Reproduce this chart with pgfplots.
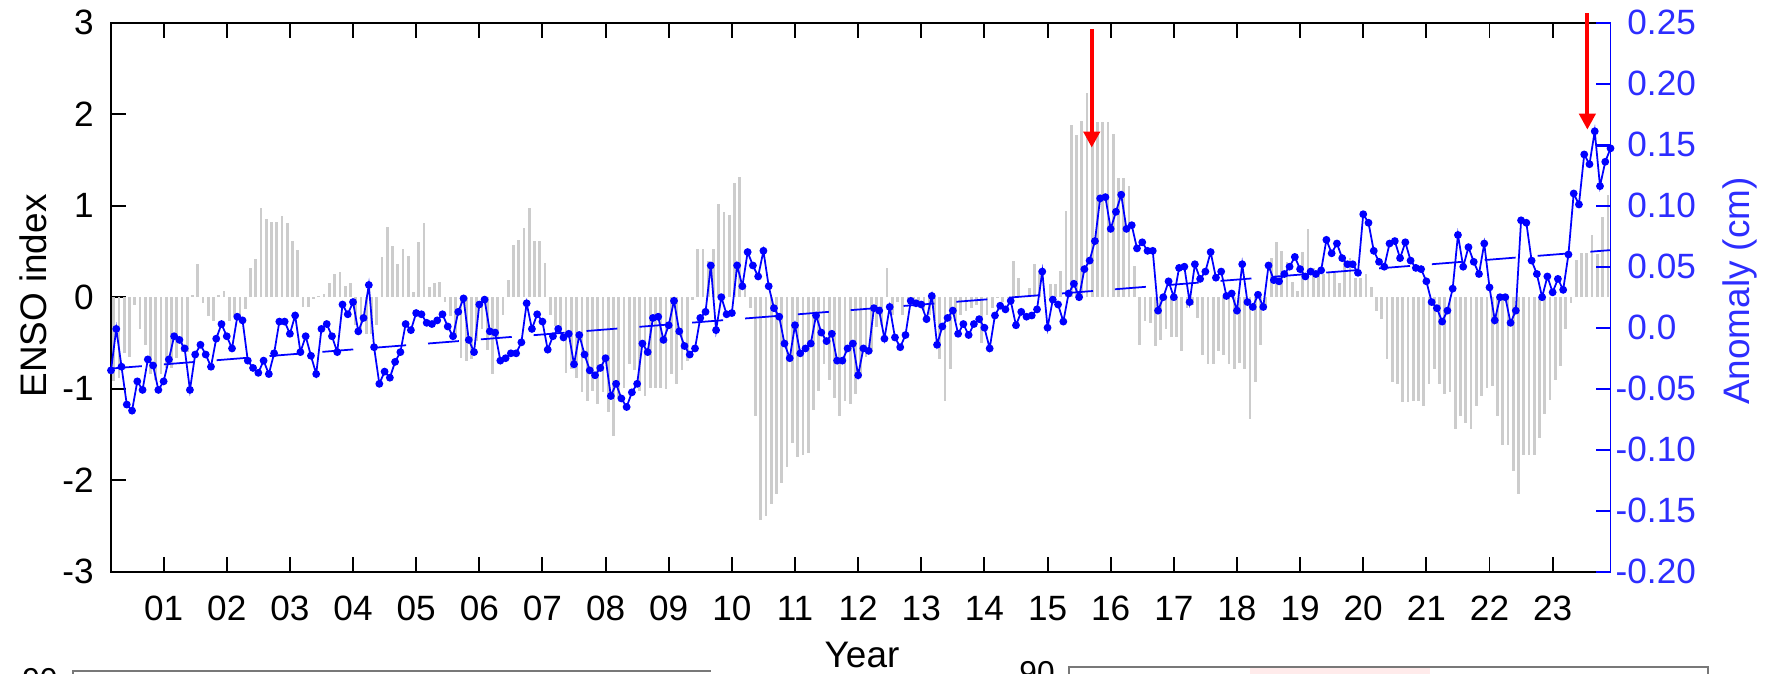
\documentclass[border=0pt]{standalone}
\usepackage{fontspec}
\setmainfont{Liberation Sans}
\usepackage{pgfplots}
\pgfplotsset{compat=1.18}
\usetikzlibrary{arrows.meta}
\definecolor{ensogray}{RGB}{204,204,204}
\definecolor{anomblue}{RGB}{0,0,255}
\definecolor{labelblue}{RGB}{45,45,255}
\definecolor{panelgray}{RGB}{120,120,120}

\begin{document}
\begin{tikzpicture}
\path[use as bounding box] (0,0) rectangle (176.5mm,67.3mm);

% ENSO index (grey bars), x = months since March 2000
\begin{axis}[
  at={(11.1mm,10.13mm)}, anchor=south west,
  scale only axis, width=149.95mm, height=54.9mm,
  xmin=0, xmax=285, ymin=-3, ymax=3,
  xtick={10,22,...,274},
  xticklabels={01,02,03,04,05,06,07,08,09,10,11,12,13,14,15,16,17,18,19,20,21,22,23},
  xtick pos=both, xticklabel pos=lower,
  ytick={-3,-2,-1,0,1,2,3},
  yticklabels={-3,-2,-1,0,1,2,3},
  ytick pos=left,
  tick align=inside,
  major tick length=1.5mm,
  tick style={black, line width=0.55pt},
  axis line style={line width=0.55pt},
  ticklabel style={font=\fontsize{10}{11}\selectfont},
  yticklabel style={xshift=-0.5mm},
  xticklabel style={yshift=-1.2mm},
  /pgf/number format/assume math mode=true,
  clip=false,
]
\addplot[ycomb, ensogray, line width=0.78pt] coordinates {
(0.5,-0.92) (1.5,-0.88) (2.5,-0.61) (3.5,-0.65) (4.5,-0.08) (5.5,-0.35) (6.5,-0.52) (7.5,-0.84) (8.5,-0.90) (9.5,-0.84)
(10.5,-0.77) (11.5,-0.77) (12.5,-0.66) (13.5,-0.60) (14.5,-0.60) (15.5,0.02) (16.5,0.36) (17.5,-0.06) (18.5,-0.20) (19.5,-0.26)
(20.5,0.02) (21.5,0.07) (22.5,-0.26) (23.5,-0.20) (24.5,-0.20) (25.5,-0.13) (26.5,0.32) (27.5,0.42) (28.5,0.98) (29.5,0.86)
(30.5,0.82) (31.5,0.82) (32.5,0.89) (33.5,0.81) (34.5,0.61) (35.5,0.52) (36.5,-0.11) (37.5,-0.11) (38.5,-0.02) (39.5,0.01)
(40.5,0.03) (41.5,0.16) (42.5,0.25) (43.5,0.28) (44.5,0.12) (45.5,0.16) (46.5,-0.30) (47.5,-0.35) (48.5,-0.40) (49.5,-0.40)
(50.5,-0.30) (51.5,0.44) (52.5,0.77) (53.5,0.56) (54.5,0.36) (55.5,0.53) (56.5,0.45) (57.5,0.06) (58.5,0.60) (59.5,0.81)
(60.5,0.11) (61.5,0.15) (62.5,0.17) (63.5,-0.05) (64.5,-0.20) (65.5,-0.45) (66.5,-0.66) (67.5,-0.70) (68.5,-0.68) (69.5,-0.48)
(70.5,-0.35) (71.5,-0.58) (72.5,-0.84) (73.5,-0.45) (74.5,-0.19) (75.5,0.19) (76.5,0.57) (77.5,0.63) (78.5,0.76) (79.5,0.98)
(80.5,0.61) (81.5,0.61) (82.5,0.37) (83.5,-0.19) (84.5,-0.32) (85.5,-0.40) (86.5,-0.83) (87.5,-0.78) (88.5,-0.88) (89.5,-1.04)
(90.5,-1.13) (91.5,-1.03) (92.5,-1.17) (93.5,-1.04) (94.5,-1.26) (95.5,-1.52) (96.5,-1.10) (97.5,-0.99) (98.5,-0.73) (99.5,-0.80)
(100.5,-1.03) (101.5,-1.08) (102.5,-0.99) (103.5,-0.99) (104.5,-0.99) (105.5,-1.00) (106.5,-0.84) (107.5,-0.95) (108.5,-0.80) (109.5,-0.70)
(110.5,-0.03) (111.5,0.53) (112.5,0.53) (113.5,0.40) (114.5,0.53) (115.5,1.02) (116.5,0.93) (117.5,0.90) (118.5,1.25) (119.5,1.31)
(120.5,0.10) (121.5,-0.12) (122.5,-1.30) (123.5,-2.43) (124.5,-2.39) (125.5,-2.26) (126.5,-2.15) (127.5,-2.03) (128.5,-1.86) (129.5,-1.59)
(130.5,-1.75) (131.5,-1.73) (132.5,-1.70) (133.5,-1.23) (134.5,-1.03) (135.5,-0.73) (136.5,-0.90) (137.5,-1.10) (138.5,-1.30) (139.5,-1.13)
(140.5,-1.17) (141.5,-1.06) (142.5,-0.85) (143.5,-0.65) (144.5,-0.60) (145.5,-0.33) (146.5,-0.30) (147.5,0.32) (148.5,-0.19) (149.5,-0.05)
(150.5,-0.19) (151.5,-0.03) (152.5,-0.04) (153.5,-0.08) (154.5,-0.15) (155.5,-0.19) (156.5,-0.26) (157.5,-0.68) (158.5,-1.13) (159.5,-0.79)
(160.5,-0.26) (161.5,-0.19) (162.5,-0.15) (163.5,-0.12) (164.5,-0.08) (165.5,-0.50) (166.5,-0.19) (167.5,-0.12) (168.5,-0.01) (169.5,-0.05)
(170.5,-0.01) (171.5,0.40) (172.5,0.21) (173.5,0.00) (174.5,0.10) (175.5,0.36) (176.5,0.30) (177.5,-0.01) (178.5,0.14) (179.5,0.14)
(180.5,0.29) (181.5,0.94) (182.5,1.88) (183.5,1.77) (184.5,1.93) (185.5,2.23) (186.5,1.93) (187.5,1.92) (188.5,1.91) (189.5,1.91)
(190.5,1.78) (191.5,1.30) (192.5,1.30) (193.5,1.22) (194.5,0.34) (195.5,-0.52) (196.5,-0.26) (197.5,-0.28) (198.5,-0.53) (199.5,-0.47)
(200.5,-0.35) (201.5,-0.43) (202.5,-0.43) (203.5,-0.59) (204.5,-0.12) (205.5,-0.08) (206.5,-0.23) (207.5,-0.63) (208.5,-0.73) (209.5,-0.73)
(210.5,-0.59) (211.5,-0.63) (212.5,-0.73) (213.5,-0.79) (214.5,-0.72) (215.5,-0.79) (216.5,-1.33) (217.5,-0.93) (218.5,-0.52) (219.5,-0.08)
(220.5,0.43) (221.5,0.60) (222.5,0.50) (223.5,0.39) (224.5,0.17) (225.5,0.07) (226.5,0.49) (227.5,0.74) (228.5,0.32) (229.5,0.25)
(230.5,0.25) (231.5,0.26) (232.5,0.29) (233.5,0.15) (234.5,0.44) (235.5,0.43) (236.5,0.21) (237.5,0.21) (238.5,0.25) (239.5,0.11)
(240.5,-0.15) (241.5,-0.24) (242.5,-0.68) (243.5,-0.93) (244.5,-0.95) (245.5,-1.15) (246.5,-1.15) (247.5,-1.13) (248.5,-1.13) (249.5,-1.19)
(250.5,-0.95) (251.5,-0.79) (252.5,-0.95) (253.5,-1.06) (254.5,-1.04) (255.5,-1.44) (256.5,-1.30) (257.5,-1.37) (258.5,-1.44) (259.5,-1.19)
(260.5,-1.08) (261.5,-0.99) (262.5,-0.97) (263.5,-1.30) (264.5,-1.61) (265.5,-1.62) (266.5,-1.90) (267.5,-2.15) (268.5,-1.73) (269.5,-1.72)
(270.5,-1.72) (271.5,-1.54) (272.5,-1.28) (273.5,-1.12) (274.5,-0.90) (275.5,-0.75) (276.5,-0.35) (277.5,-0.06) (278.5,0.41) (279.5,0.48)
(280.5,0.48) (281.5,0.68) (282.5,0.47) (283.5,0.88) (284.5,1.12)
};
\end{axis}

% Sea-level anomaly (blue), right-hand scale
\begin{axis}[
  at={(11.1mm,10.13mm)}, anchor=south west,
  scale only axis, width=149.95mm, height=54.9mm,
  xmin=0, xmax=285, ymin=-0.20, ymax=0.25,
  axis x line=none,
  axis y line*=right,
  ytick={-0.20,-0.15,-0.10,-0.05,0,0.05,0.10,0.15,0.20,0.25},
  yticklabels={\llap{-}0.20,\llap{-}0.15,\llap{-}0.10,\llap{-}0.05,0.0,0.05,0.10,0.15,0.20,0.25},
  tick align=inside,
  major tick length=1.5mm,
  ytick style={anomblue, line width=0.55pt},
  y axis line style={anomblue, line width=0.55pt},
  yticklabel style={labelblue, font=\fontsize{10}{11}\selectfont, xshift=0.45mm},
  clip=false,
]
\addplot[anomblue, line width=0.5pt, mark=*, mark size=0.85pt] coordinates {
(0,-0.035) (1,-0.001) (2,-0.032) (3,-0.063) (4,-0.068) (5,-0.044) (6,-0.051) (7,-0.026) (8,-0.031) (9,-0.051)
(10,-0.044) (11,-0.026) (12,-0.007) (13,-0.010) (14,-0.017) (15,-0.051) (16,-0.022) (17,-0.014) (18,-0.022) (19,-0.032)
(20,-0.009) (21,0.003) (22,-0.007) (23,-0.017) (24,0.009) (25,0.006) (26,-0.027) (27,-0.033) (28,-0.037) (29,-0.027)
(30,-0.038) (31,-0.021) (32,0.005) (33,0.005) (34,-0.005) (35,0.010) (36,-0.020) (37,-0.007) (38,-0.023) (39,-0.038)
(40,-0.001) (41,0.003) (42,-0.007) (43,-0.020) (44,0.019) (45,0.011) (46,0.021) (47,-0.003) (48,0.008) (49,0.035)
(50,-0.016) (51,-0.046) (52,-0.036) (53,-0.041) (54,-0.028) (55,-0.020) (56,0.003) (57,-0.002) (58,0.012) (59,0.011)
(60,0.004) (61,0.003) (62,0.006) (63,0.011) (64,0.001) (65,-0.007) (66,0.013) (67,0.024) (68,-0.010) (69,-0.020)
(70,0.019) (71,0.023) (72,-0.003) (73,-0.004) (74,-0.027) (75,-0.025) (76,-0.021) (77,-0.021) (78,-0.012) (79,0.020)
(80,-0.001) (81,0.011) (82,0.005) (83,-0.018) (84,-0.007) (85,-0.001) (86,-0.008) (87,-0.005) (88,-0.030) (89,-0.006)
(90,-0.022) (91,-0.035) (92,-0.039) (93,-0.033) (94,-0.025) (95,-0.056) (96,-0.046) (97,-0.058) (98,-0.065) (99,-0.053)
(100,-0.046) (101,-0.013) (102,-0.020) (103,0.008) (104,0.009) (105,-0.010) (106,0.002) (107,0.022) (108,-0.003) (109,-0.015)
(110,-0.022) (111,-0.017) (112,0.008) (113,0.013) (114,0.051) (115,-0.002) (116,0.025) (117,0.011) (118,0.012) (119,0.051)
(120,0.034) (121,0.062) (122,0.051) (123,0.042) (124,0.063) (125,0.034) (126,0.016) (127,0.009) (128,-0.013) (129,-0.025)
(130,0.002) (131,-0.021) (132,-0.017) (133,-0.013) (134,0.010) (135,-0.004) (136,-0.011) (137,-0.005) (138,-0.027) (139,-0.027)
(140,-0.017) (141,-0.013) (142,-0.039) (143,-0.017) (144,-0.019) (145,0.016) (146,0.014) (147,-0.009) (148,0.017) (149,-0.008)
(150,-0.016) (151,-0.006) (152,0.022) (153,0.020) (154,0.019) (155,0.007) (156,0.026) (157,-0.014) (158,0.001) (159,0.008)
(160,0.014) (161,-0.005) (162,0.003) (163,-0.006) (164,0.003) (165,0.007) (166,0.000) (167,-0.017) (168,0.010) (169,0.018)
(170,0.015) (171,0.022) (172,0.002) (173,0.013) (174,0.009) (175,0.010) (176,0.015) (177,0.046) (178,0.000) (179,0.023)
(180,0.019) (181,0.005) (182,0.028) (183,0.036) (184,0.025) (185,0.048) (186,0.055) (187,0.071) (188,0.106) (189,0.107)
(190,0.081) (191,0.095) (192,0.109) (193,0.081) (194,0.084) (195,0.065) (196,0.070) (197,0.063) (198,0.063) (199,0.014)
(200,0.025) (201,0.038) (202,0.025) (203,0.049) (204,0.050) (205,0.021) (206,0.052) (207,0.040) (208,0.046) (209,0.062)
(210,0.041) (211,0.046) (212,0.026) (213,0.028) (214,0.014) (215,0.052) (216,0.021) (217,0.017) (218,0.027) (219,0.017)
(220,0.051) (221,0.039) (222,0.038) (223,0.044) (224,0.050) (225,0.058) (226,0.048) (227,0.042) (228,0.046) (229,0.044)
(230,0.047) (231,0.072) (232,0.061) (233,0.069) (234,0.057) (235,0.052) (236,0.052) (237,0.045) (238,0.093) (239,0.086)
(240,0.063) (241,0.054) (242,0.050) (243,0.069) (244,0.071) (245,0.057) (246,0.070) (247,0.055) (248,0.049) (249,0.048)
(250,0.038) (251,0.021) (252,0.016) (253,0.005) (254,0.014) (255,0.032) (256,0.076) (257,0.050) (258,0.066) (259,0.054)
(260,0.044) (261,0.069) (262,0.033) (263,0.006) (264,0.025) (265,0.025) (266,0.004) (267,0.014) (268,0.088) (269,0.086)
(270,0.055) (271,0.044) (272,0.025) (273,0.042) (274,0.029) (275,0.040) (276,0.031) (277,0.060) (278,0.110) (279,0.101)
(280,0.142) (281,0.134) (282,0.161) (283,0.116) (284,0.136) (285,0.147)
};
% linear trend
\addplot[anomblue, line width=0.5pt, dash pattern=on 3.1mm off 2.2mm] coordinates {(0,-0.0335) (285,0.0636)};
% recent level
\addplot[anomblue, line width=0.5pt] coordinates {(282.3,0.149) (285,0.149)};
% markers of the two record events
\draw[red, line width=1.15pt, -{Triangle[length=1.6mm,width=1.6mm]}] (axis cs:186.4,0.2446) -- (axis cs:186.4,0.1476);
\draw[red, line width=1.15pt, -{Triangle[length=1.6mm,width=1.6mm]}] (axis cs:280.6,0.2579) -- (axis cs:280.6,0.1623);
\end{axis}

% axis titles
\node[rotate=90, font=\fontsize{10.5}{12}\selectfont] at (3.3mm,37.7mm) {ENSO index};
\node[rotate=90, font=\fontsize{10.5}{12}\selectfont, text=labelblue] at (174.0mm,38.2mm) {Anomaly (cm)};
\node[anchor=base, font=\fontsize{10.5}{12}\selectfont] at (86.2mm,0.6mm) {Year};

% tops of the panels below
\draw[panelgray, line width=0.5pt] (7.3mm,-1mm) -- (7.3mm,0.23mm) -- (71.1mm,0.23mm);
\fill[red!8] (125mm,-1mm) rectangle (143mm,0.5mm);
\draw[panelgray, line width=0.5pt] (106.9mm,-1mm) -- (106.9mm,0.63mm) -- (170.8mm,0.63mm) -- (170.8mm,-1mm);
\node[anchor=north, inner sep=0pt, font=\fontsize{9}{10}\selectfont] at (4.0mm,0.5mm) {90};
\node[anchor=north, inner sep=0pt, font=\fontsize{9}{10}\selectfont] at (103.7mm,1.25mm) {90};
\end{tikzpicture}
\end{document}
